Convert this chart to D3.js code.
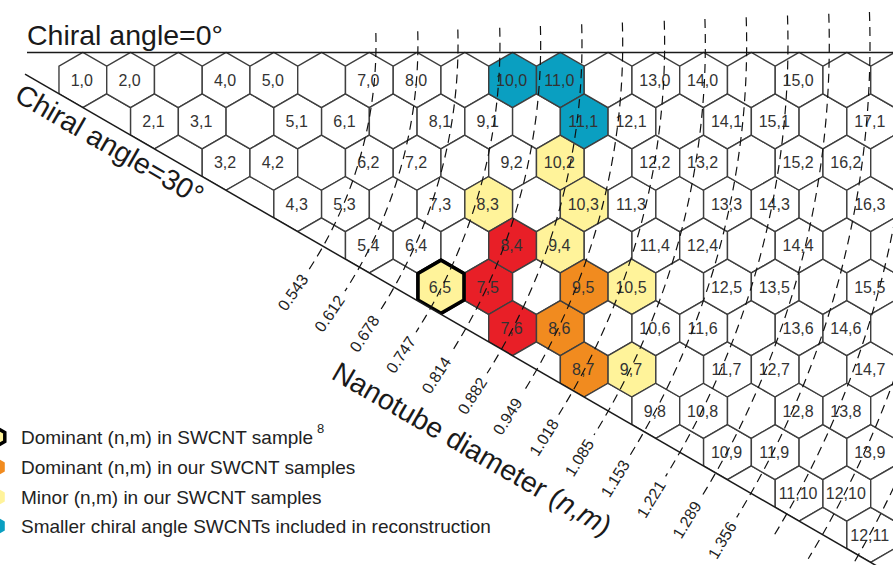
<!DOCTYPE html>
<html><head><meta charset="utf-8">
<script src="https://cdn.jsdelivr.net/npm/d3@7"></script>
<style>
body{margin:0;background:#fff}
svg{display:block}
text{font-family:"Liberation Sans",Arial,Helvetica,sans-serif}
</style>
</head><body>
<svg id="c" width="893" height="565"></svg>
<script>
// ---------------- data ----------------
const cellLabels = [
  "1,0","2,0","4,0","5,0","7,0","8,0","10,0","11,0","13,0","14,0","15,0",
  "2,1","3,1","5,1","6,1","8,1","9,1","11,1","12,1","14,1","15,1","17,1",
  "3,2","4,2","6,2","7,2","9,2","10,2","12,2","13,2","15,2","16,2",
  "4,3","5,3","7,3","8,3","10,3","11,3","13,3","14,3","16,3",
  "5,4","6,4","8,4","9,4","11,4","12,4","14,4",
  "6,5","7,5","9,5","10,5","12,5","13,5","15,5",
  "7,6","8,6","10,6","11,6","13,6","14,6",
  "8,7","9,7","11,7","12,7","14,7",
  "9,8","10,8","12,8","13,8",
  "10,9","11,9","13,9",
  "11,10","12,10",
  "12,11"
];
// the label "15,0" sits in the (16,0) cell in the original figure
const labelCellOverride = {"15,0": "16,0"};

const smallAngleCells = ["10,0","11,0","11,1"];          // blue
const minorCells      = ["10,2","8,3","10,3","9,4","6,5","10,5","9,7"]; // yellow
const dominantOurCells= ["9,5","8,6","8,7"];             // orange
const redCells        = ["8,4","7,5","7,6"];             // red
const dominantRefCells= ["6,5"];                         // thick black outline

const diameterLabels = ["0.543","0.612","0.678","0.747","0.814","0.882","0.949",
                        "1.018","1.085","1.153","1.221","1.289","1.356"];
const extraDiameters = [1.424, 1.492, 1.560];           // lines continuing off the figure

const legendLabels = [
  "Dominant (n,m) in SWCNT sample",
  "Dominant (n,m) in our SWCNT samples",
  "Minor (n,m) in our SWCNT samples",
  "Smaller chiral angle SWCNTs included in reconstruction"
];
const legendKinds = ["ref","orange","yellow","blue"];

// ---------------- styles / layout ----------------
const COL = {blue:"#0a9fc1", yellow:"#fff39a", orange:"#f18b1f", red:"#e81f27"};
const svg = d3.select("#c");
const W = 893, H = 565;

const gx = d3.scaleLinear().domain([0,1]).range([35.1, 35.1+47.75]); // lattice x = n + m/2
const gy = d3.scaleLinear().domain([0,1]).range([80, 80+41.35]);     // row m
const hexR = 47.75/Math.sqrt(3);
const T30 = Math.tan(Math.PI/6);
const yTopLine = gy(0) - hexR;
const y30 = x => gy(0) + (x - gx(0))*T30;

function parse(s){ const [n,m]=s.split(",").map(Number); return {n,m}; }
function center(n,m){ return [gx(n + m/2), gy(m)]; }
function hexPath(cx,cy,r){
  const pts = d3.range(6).map(i=>{const a=Math.PI/180*(-90+60*i); return [cx+r*Math.cos(a), cy+r*Math.sin(a)];});
  return "M"+pts.map(p=>p.join(",")).join("L")+"Z";
}
function fillFor(key){
  if (smallAngleCells.includes(key)) return COL.blue;
  if (redCells.includes(key)) return COL.red;
  if (dominantOurCells.includes(key)) return COL.orange;
  if (minorCells.includes(key)) return COL.yellow;
  return "#fff";
}

// clip wedge between 0° and 30° lines
svg.append("clipPath").attr("id","wedge").append("path")
  .attr("d", `M-60,${yTopLine-1}L960,${yTopLine-1}L960,${y30(960)}L-60,${y30(-60)}Z`);

const grid = svg.append("g").attr("clip-path","url(#wedge)");
const cells = [];
for (let n=1;n<=21;n++) for (let m=0;m<=n;m++){
  const [cx,cy]=center(n,m);
  if (cx-hexR>W+5 || cy-hexR>H+5) continue;
  cells.push({n,m,cx,cy,key:n+","+m});
}
grid.selectAll("path.hex").data(cells).join("path").attr("class","hex")
  .attr("d",d=>hexPath(d.cx,d.cy,hexR))
  .attr("fill",d=>fillFor(d.key))
  .attr("stroke","#3f3f3f").attr("stroke-width",1.4);

// thick outline
grid.selectAll("path.ref").data(dominantRefCells.map(parse)).join("path").attr("class","ref")
  .attr("d",d=>{const [cx,cy]=center(d.n,d.m); return hexPath(cx,cy,hexR-1);})
  .attr("fill","none").attr("stroke","#000").attr("stroke-width",3.6).attr("stroke-linejoin","miter");

// cell labels
svg.append("g").selectAll("text").data(cellLabels).join("text")
  .attr("x",d=>{const c=parse(labelCellOverride[d]||d); return center(c.n,c.m)[0]-1;})
  .attr("y",d=>{const c=parse(labelCellOverride[d]||d); return center(c.n,c.m)[1];})
  .attr("dy","0.36em").attr("text-anchor","middle")
  .attr("font-size",16).attr("fill","#333").text(d=>d);

// chiral angle lines
svg.append("line").attr("x1",27).attr("x2",W).attr("y1",yTopLine).attr("y2",yTopLine)
  .attr("stroke","#1a1a1a").attr("stroke-width",1.5);
svg.append("line").attr("x1",25).attr("y1",y30(25)).attr("x2",910).attr("y2",y30(910))
  .attr("stroke","#1a1a1a").attr("stroke-width",1.5);

// diameter isolines (arcs)
const C = {x:-37, y:44};
const rScale = d3.scaleLinear().domain([0.543,1.356]).range([413,907]);
const P0 = {x:gx(0), y:gy(0)};
const u = {x:Math.cos(Math.PI/6), y:Math.sin(Math.PI/6)};
const nrm = {x:-Math.sin(Math.PI/6), y:Math.cos(Math.PI/6)};
function hitOffsetLine(R, s){
  const Q = {x:P0.x + s*nrm.x - C.x, y:P0.y + s*nrm.y - C.y};
  const qu = Q.x*u.x + Q.y*u.y, qq = Q.x*Q.x + Q.y*Q.y;
  const t = -qu + Math.sqrt(qu*qu - qq + R*R);
  return {x:P0.x + s*nrm.x + t*u.x, y:P0.y + s*nrm.y + t*u.y};
}
const allD = diameterLabels.map((s,i)=>({d:+s, label:s, i})).concat(
  extraDiameters.map((d,j)=>({d, label:null, i:diameterLabels.length+j})));
const dash = svg.append("g");
allD.forEach(o=>{
  const R = rScale(o.d);
  const yTop = 33 - 1.75*o.i;
  const x0 = C.x + Math.sqrt(R*R - (yTop-C.y)**2);
  const a0 = Math.atan2(yTop-C.y, x0-C.x);
  const e = hitOffsetLine(R, 28);
  const a1 = Math.atan2(e.y-C.y, e.x-C.x);
  const p = d3.path(); p.moveTo(x0,yTop); p.arc(C.x,C.y,R,a0,a1,false);
  dash.append("path").attr("d",p.toString()).attr("fill","none")
    .attr("stroke","#111").attr("stroke-width",1.2).attr("stroke-dasharray","9,6");
  if (o.label){
    const L = hitOffsetLine(R, 55);
    const aL = Math.atan2(L.y-C.y, L.x-C.x)*180/Math.PI;
    dash.append("text").attr("transform",`translate(${L.x},${L.y}) rotate(${aL-92})`)
      .attr("text-anchor","middle").attr("dy","0.35em").attr("font-size",16).attr("fill","#222")
      .text(o.label);
  }
});

// titles
svg.append("text").attr("x",27).attr("y",45).attr("font-size",28.5).attr("fill","#1a1a1a")
  .text("Chiral angle=0°");
svg.append("text").attr("transform","translate(13,100) rotate(30)").attr("font-size",28.5)
  .attr("fill","#1a1a1a").text("Chiral angle=30°");
const nt = svg.append("text").attr("transform","translate(330,378) rotate(30)")
  .attr("font-size",28.5).attr("fill","#1a1a1a");
nt.append("tspan").text("Nanotube diameter (");
nt.append("tspan").attr("font-style","italic").text("n");
nt.append("tspan").text(",");
nt.append("tspan").attr("font-style","italic").text("m");
nt.append("tspan").text(")");

// legend
const lg = svg.append("g");
const legY = [437,467,497,526];
legendLabels.forEach((s,i)=>{
  const k = legendKinds[i];
  const cy = legY[i];
  lg.append("path").attr("d",hexPath(-3,cy,9))
    .attr("fill", k==="ref"?COL.yellow:COL[k])
    .attr("stroke", k==="ref"?"#000":"none").attr("stroke-width",3.5);
  const t = lg.append("text").attr("x",21).attr("y",cy+6.5).attr("font-size",19).attr("fill","#222").text(s);
  if (k==="ref") t.append("tspan").attr("dx",4).attr("dy",-11).attr("font-size",13).text("8");
});
</script>
</body></html>
